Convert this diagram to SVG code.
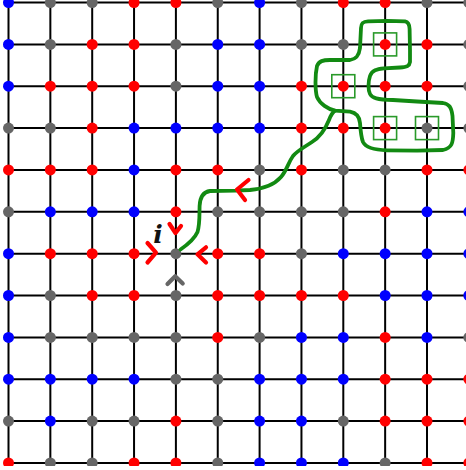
<svg xmlns="http://www.w3.org/2000/svg" width="466" height="470" viewBox="0 0 466 470">
<style>
.grid line{stroke:#000;stroke-width:2}
.r{fill:#ff0000}.b{fill:#0000ff}.g{fill:#666666}
.dots circle{r:5.5px}
.gl{fill:none;stroke:#128a12;stroke-width:3.8;stroke-linecap:round;stroke-linejoin:round}
.sq{fill:none;stroke:#2a9a2a;stroke-width:1.6}
.chev{fill:none;stroke-width:4.2;stroke-linecap:round;stroke-linejoin:round}
.lbl{font-family:"DejaVu Serif",serif;font-style:italic;font-weight:bold;font-size:25px;fill:#111}
</style>
<rect width="466" height="470" fill="#fff"/>
<g class="grid" id="grid">
<line x1="8.5" y1="0" x2="8.5" y2="463"/>
<line x1="50.35" y1="0" x2="50.35" y2="463"/>
<line x1="92.2" y1="0" x2="92.2" y2="463"/>
<line x1="134.05" y1="0" x2="134.05" y2="463"/>
<line x1="175.9" y1="0" x2="175.9" y2="463"/>
<line x1="217.75" y1="0" x2="217.75" y2="463"/>
<line x1="259.6" y1="0" x2="259.6" y2="463"/>
<line x1="301.45" y1="0" x2="301.45" y2="463"/>
<line x1="343.3" y1="0" x2="343.3" y2="463"/>
<line x1="385.15" y1="0" x2="385.15" y2="463"/>
<line x1="427" y1="0" x2="427" y2="463"/>
<line x1="7.5" y1="2.5" x2="466" y2="2.5"/>
<line x1="7.5" y1="44.4" x2="466" y2="44.4"/>
<line x1="7.5" y1="86.2" x2="466" y2="86.2"/>
<line x1="7.5" y1="128.1" x2="466" y2="128.1"/>
<line x1="7.5" y1="169.9" x2="466" y2="169.9"/>
<line x1="7.5" y1="211.8" x2="466" y2="211.8"/>
<line x1="7.5" y1="253.7" x2="466" y2="253.7"/>
<line x1="7.5" y1="295.5" x2="466" y2="295.5"/>
<line x1="7.5" y1="337.4" x2="466" y2="337.4"/>
<line x1="7.5" y1="379.2" x2="466" y2="379.2"/>
<line x1="7.5" y1="421.1" x2="466" y2="421.1"/>
<line x1="7.5" y1="463" x2="466" y2="463"/>
</g>
<g class="dots" id="nodes">
<g id="row0" transform="translate(0,2.5)">
<circle class="b" cx="8.5" cy="0"/><circle class="g" cx="50.35" cy="0"/><circle class="g" cx="92.2" cy="0"/><circle class="r" cx="134.05" cy="0"/><circle class="r" cx="175.9" cy="0"/><circle class="g" cx="217.75" cy="0"/><circle class="b" cx="259.6" cy="0"/><circle class="g" cx="301.45" cy="0"/><circle class="r" cx="343.3" cy="0"/><circle class="r" cx="385.15" cy="0"/><circle class="g" cx="427" cy="0"/><circle class="g" cx="468.85" cy="0"/>
</g>
<g id="row1" transform="translate(0,44.4)">
<circle class="b" cx="8.5" cy="0"/><circle class="g" cx="50.35" cy="0"/><circle class="r" cx="92.2" cy="0"/><circle class="r" cx="134.05" cy="0"/><circle class="g" cx="175.9" cy="0"/><circle class="b" cx="217.75" cy="0"/><circle class="b" cx="259.6" cy="0"/><circle class="g" cx="301.45" cy="0"/><circle class="g" cx="343.3" cy="0"/><circle class="r" cx="385.15" cy="0"/><circle class="r" cx="427" cy="0"/><circle class="g" cx="468.85" cy="0"/>
</g>
<g id="row2" transform="translate(0,86.2)">
<circle class="b" cx="8.5" cy="0"/><circle class="r" cx="50.35" cy="0"/><circle class="r" cx="92.2" cy="0"/><circle class="r" cx="134.05" cy="0"/><circle class="g" cx="175.9" cy="0"/><circle class="b" cx="217.75" cy="0"/><circle class="b" cx="259.6" cy="0"/><circle class="r" cx="301.45" cy="0"/><circle class="r" cx="343.3" cy="0"/><circle class="r" cx="385.15" cy="0"/><circle class="r" cx="427" cy="0"/><circle class="g" cx="468.85" cy="0"/>
</g>
<g id="row3" transform="translate(0,128.1)">
<circle class="g" cx="8.5" cy="0"/><circle class="g" cx="50.35" cy="0"/><circle class="r" cx="92.2" cy="0"/><circle class="b" cx="134.05" cy="0"/><circle class="b" cx="175.9" cy="0"/><circle class="b" cx="217.75" cy="0"/><circle class="b" cx="259.6" cy="0"/><circle class="r" cx="301.45" cy="0"/><circle class="r" cx="343.3" cy="0"/><circle class="r" cx="385.15" cy="0"/><circle class="g" cx="427" cy="0"/><circle class="g" cx="468.85" cy="0"/>
</g>
<g id="row4" transform="translate(0,169.9)">
<circle class="r" cx="8.5" cy="0"/><circle class="r" cx="50.35" cy="0"/><circle class="r" cx="92.2" cy="0"/><circle class="b" cx="134.05" cy="0"/><circle class="r" cx="175.9" cy="0"/><circle class="r" cx="217.75" cy="0"/><circle class="g" cx="259.6" cy="0"/><circle class="r" cx="301.45" cy="0"/><circle class="g" cx="343.3" cy="0"/><circle class="g" cx="385.15" cy="0"/><circle class="r" cx="427" cy="0"/><circle class="r" cx="468.85" cy="0"/>
</g>
<g id="row5" transform="translate(0,211.8)">
<circle class="g" cx="8.5" cy="0"/><circle class="b" cx="50.35" cy="0"/><circle class="b" cx="92.2" cy="0"/><circle class="b" cx="134.05" cy="0"/><circle class="r" cx="175.9" cy="0"/><circle class="g" cx="217.75" cy="0"/><circle class="g" cx="259.6" cy="0"/><circle class="g" cx="301.45" cy="0"/><circle class="g" cx="343.3" cy="0"/><circle class="r" cx="385.15" cy="0"/><circle class="b" cx="427" cy="0"/><circle class="b" cx="468.85" cy="0"/>
</g>
<g id="row6" transform="translate(0,253.7)">
<circle class="b" cx="8.5" cy="0"/><circle class="r" cx="50.35" cy="0"/><circle class="r" cx="92.2" cy="0"/><circle class="r" cx="134.05" cy="0"/><circle class="g" cx="175.9" cy="0"/><circle class="r" cx="217.75" cy="0"/><circle class="r" cx="259.6" cy="0"/><circle class="g" cx="301.45" cy="0"/><circle class="b" cx="343.3" cy="0"/><circle class="b" cx="385.15" cy="0"/><circle class="b" cx="427" cy="0"/><circle class="b" cx="468.85" cy="0"/>
</g>
<g id="row7" transform="translate(0,295.5)">
<circle class="b" cx="8.5" cy="0"/><circle class="g" cx="50.35" cy="0"/><circle class="r" cx="92.2" cy="0"/><circle class="r" cx="134.05" cy="0"/><circle class="g" cx="175.9" cy="0"/><circle class="r" cx="217.75" cy="0"/><circle class="r" cx="259.6" cy="0"/><circle class="r" cx="301.45" cy="0"/><circle class="r" cx="343.3" cy="0"/><circle class="b" cx="385.15" cy="0"/><circle class="b" cx="427" cy="0"/><circle class="b" cx="468.85" cy="0"/>
</g>
<g id="row8" transform="translate(0,337.4)">
<circle class="b" cx="8.5" cy="0"/><circle class="g" cx="50.35" cy="0"/><circle class="g" cx="92.2" cy="0"/><circle class="g" cx="134.05" cy="0"/><circle class="g" cx="175.9" cy="0"/><circle class="r" cx="217.75" cy="0"/><circle class="g" cx="259.6" cy="0"/><circle class="b" cx="301.45" cy="0"/><circle class="b" cx="343.3" cy="0"/><circle class="r" cx="385.15" cy="0"/><circle class="b" cx="427" cy="0"/><circle class="g" cx="468.85" cy="0"/>
</g>
<g id="row9" transform="translate(0,379.2)">
<circle class="b" cx="8.5" cy="0"/><circle class="b" cx="50.35" cy="0"/><circle class="b" cx="92.2" cy="0"/><circle class="b" cx="134.05" cy="0"/><circle class="g" cx="175.9" cy="0"/><circle class="g" cx="217.75" cy="0"/><circle class="b" cx="259.6" cy="0"/><circle class="b" cx="301.45" cy="0"/><circle class="b" cx="343.3" cy="0"/><circle class="r" cx="385.15" cy="0"/><circle class="r" cx="427" cy="0"/><circle class="r" cx="468.85" cy="0"/>
</g>
<g id="row10" transform="translate(0,421.1)">
<circle class="g" cx="8.5" cy="0"/><circle class="b" cx="50.35" cy="0"/><circle class="g" cx="92.2" cy="0"/><circle class="g" cx="134.05" cy="0"/><circle class="r" cx="175.9" cy="0"/><circle class="g" cx="217.75" cy="0"/><circle class="b" cx="259.6" cy="0"/><circle class="b" cx="301.45" cy="0"/><circle class="g" cx="343.3" cy="0"/><circle class="r" cx="385.15" cy="0"/><circle class="r" cx="427" cy="0"/><circle class="r" cx="468.85" cy="0"/>
</g>
<g id="row11" transform="translate(0,463)">
<circle class="r" cx="8.5" cy="0"/><circle class="g" cx="50.35" cy="0"/><circle class="g" cx="92.2" cy="0"/><circle class="r" cx="134.05" cy="0"/><circle class="r" cx="175.9" cy="0"/><circle class="g" cx="217.75" cy="0"/><circle class="b" cx="259.6" cy="0"/><circle class="b" cx="301.45" cy="0"/><circle class="b" cx="343.3" cy="0"/><circle class="g" cx="385.15" cy="0"/><circle class="r" cx="427" cy="0"/><circle class="r" cx="468.85" cy="0"/>
</g>
</g>
<rect x="0" y="466" width="466" height="4" fill="#fff"/>
<g id="cluster">
<rect class="sq" x="373.6" y="32.9" width="23" height="23"/>
<rect class="sq" x="331.8" y="74.7" width="23" height="23"/>
<rect class="sq" x="373.6" y="116.6" width="23" height="23"/>
<rect class="sq" x="415.5" y="116.6" width="23" height="23"/>
<path class="gl" d="M335,110.7 C328,109 320,104 317,97 C315,90 315,75 317,66 C319,61 323,60 330,60 L350,60 C356,59 359,56 360,48 L361,28 C361,23 363,21.5 368,21.3 L387,20.8 L405,21.4 C408,22 409.5,24 409.6,29 L410,50 L410,62 C409.5,66 407,67 400,67.5 L384,68.3 C377,69 372,70 370,76 C368,82 368,90 370,94 C372,98 377,99.5 393,100 L417,101.5 L443,103 C449,104 451.5,107 452.5,116 L453.3,133 C453,143 452,148 443,150 L417,150.7 L387,150.3 C375,150 366,148 363,142 C361,137 360.5,130 360,123 C359.5,117 357,113 350,111.7 Z"/>
<path class="gl" d="M180.5,249.5 C187,245 194,240 197.5,232 C200,224 199.3,214 199.6,206 C200,197 203,192 210,191 L235,190.6 L250,190 C262,189 274,185 281,177 C287,170 288,163 293,156 C297,151 303,148 312,142 C320,137 325,130 329,120 C331,115 333,112 335,110.7"/>
</g>
<g id="arrows">
<path class="chev" stroke="#ff0000" d="M169.5,224 L175.5,233 L181,226"/>
<path class="chev" stroke="#ff0000" d="M147.5,243 L156,252.7 L147.5,262.5"/>
<path class="chev" stroke="#ff0000" d="M206,247.3 L197.5,254.3 L206,262.5"/>
<path class="chev" stroke="#666666" d="M167.5,284 L175.2,276.3 L182.7,283.5"/>
<path class="chev" stroke="#ff0000" d="M248.5,180 L237,189.5 L245,200"/>
</g>
<text class="lbl" x="158" y="243" text-anchor="middle">i</text>
</svg>
